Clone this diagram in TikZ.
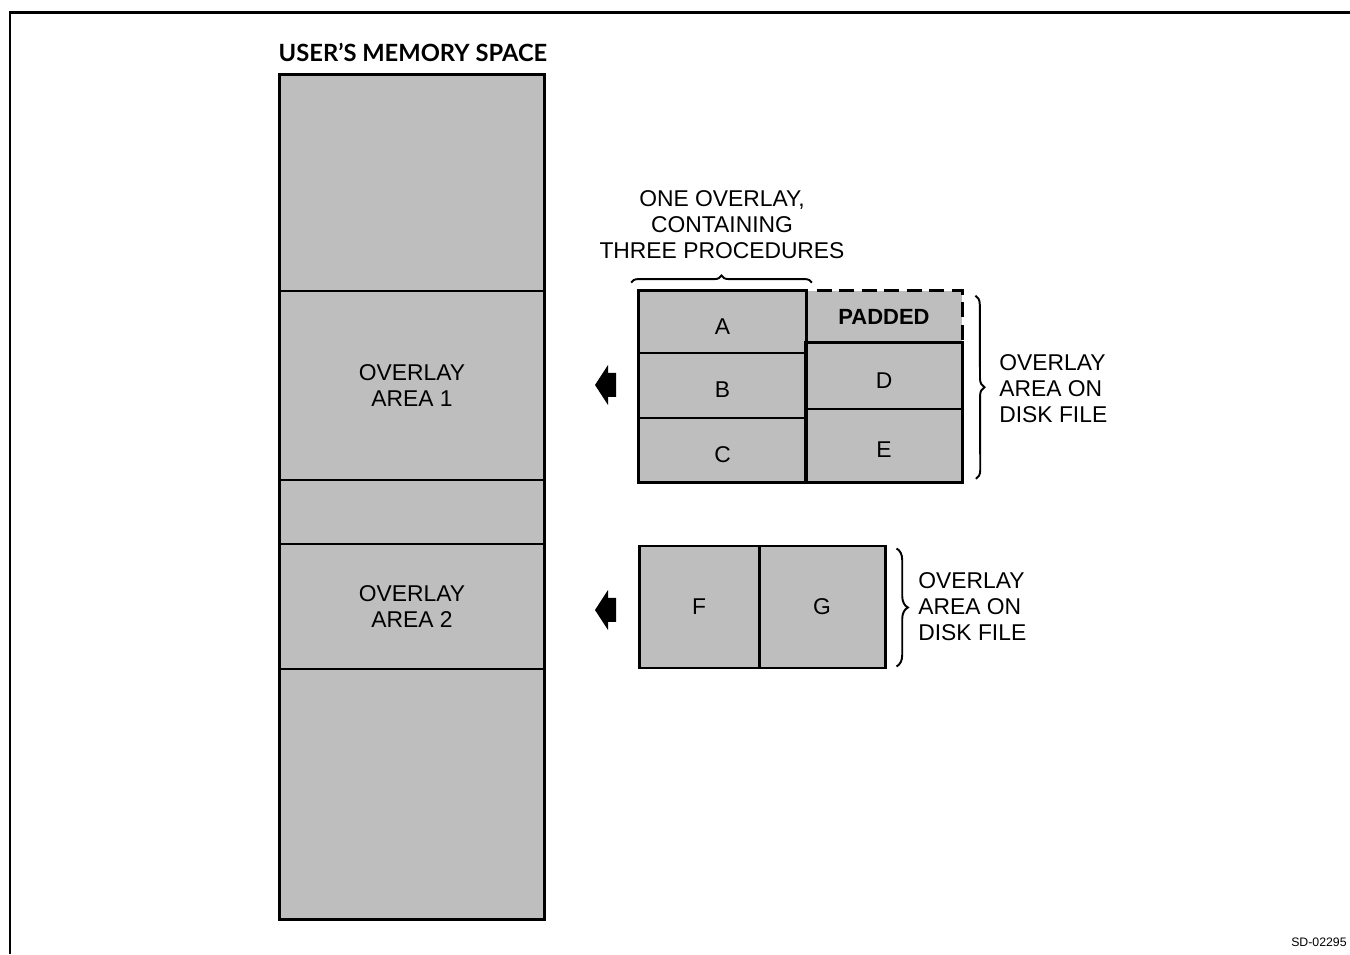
\documentclass[tikz,border=0pt]{standalone}
\usepackage{fontspec}
\setmainfont{Liberation Sans}
\newfontfamily\titlefont{Lato}
\usepackage{tikz}
\usetikzlibrary{arrows.meta,decorations.pathreplacing}
\definecolor{memc}{RGB}{190,190,190}
\tikzset{
  cell/.style={draw,fill=memc,line width=1pt,inner sep=0pt,font=\fontsize{13}{14.8}\selectfont},
  outline/.style={line width=1.7pt},
  lbl/.style={align=center,inner sep=0pt,font=\fontsize{13}{14.8}\selectfont},
  curly/.style={decorate,decoration={brace,amplitude=#1},line width=1.1pt},
}

\begin{document}
\begin{tikzpicture}[x=1cm,y=1cm,>=Latex]
\useasboundingbox (0,0) rectangle (27,19.08);
\draw[outline] (0.2,0)--(0.2,18.82)--(27,18.82);
\node[inner sep=0pt,font=\titlefont\bfseries\fontsize{13.5}{15}\selectfont] (title) at (8.26,18.04) {USER’S MEMORY SPACE};
% memory column
\node[cell,minimum width=5.28cm,minimum height=4.32cm] (m1) at (8.24,15.42) {};
\node[cell,lbl,minimum width=5.28cm,minimum height=3.78cm] (ov1) at (8.24,11.37) {OVERLAY\\AREA 1};
\node[cell,minimum width=5.28cm,minimum height=1.28cm] (m3) at (8.24,8.84) {};
\node[cell,lbl,minimum width=5.28cm,minimum height=2.50cm] (ov2) at (8.24,6.95) {OVERLAY\\AREA 2};
\node[cell,minimum width=5.28cm,minimum height=5.00cm] (m5) at (8.24,3.20) {};
\draw[outline] (m1.north west) rectangle (m5.south east);
% overlay area 1 on disk
\foreach \nm/\xc/\yc/\w/\h in {A/14.45/12.64/3.34/1.24, B/14.45/11.37/3.34/1.30, C/14.45/10.08/3.34/1.28, D/17.68/11.56/3.12/1.32, E/17.68/10.17/3.12/1.46}
  {\node[cell,text height=0.5cm,minimum width=\w cm,minimum height=\h cm] (\nm) at (\xc,\yc) {\nm};}
\node[fill=memc,inner sep=0pt,minimum width=3.12cm,minimum height=1.04cm,font=\bfseries\fontsize{12.5}{14}\selectfont] (pad) at (17.68,12.74) {PADDED};
\draw[outline,dash pattern=on 0.3cm off 0.15cm] ([xshift=0.22cm]pad.north west)--(pad.north east)--(pad.south east);
\draw[outline] (A.north west) rectangle (C.south east);
\draw[outline] (D.north west) rectangle (E.south east);
\draw[curly=4pt] ([xshift=-0.14cm,yshift=0.15cm]A.north west) -- ([xshift=0.1cm,yshift=0.15cm]A.north east);
\node[lbl] (onelbl) at (14.44,14.58) {ONE OVERLAY,\\CONTAINING\\THREE PROCEDURES};
\draw[curly=5pt] ([xshift=0.26cm,yshift=-0.1cm]pad.north east) -- ([xshift=0.26cm,yshift=0.08cm]E.south east);
\node[lbl,align=left,anchor=west] (disk1) at (19.98,11.30) {OVERLAY\\AREA ON\\DISK FILE};
% overlay area 2 on disk
\foreach \nm/\xc/\w in {F/13.98/2.40, G/16.44/2.52}
  {\node[cell,line width=1.7pt,minimum width=\w cm,minimum height=2.44cm] (\nm) at (\xc,6.94) {\nm};}
\draw[curly=6.5pt] ([xshift=0.2cm,yshift=-0.08cm]G.north east) -- ([xshift=0.2cm,yshift=0.06cm]G.south east);
\node[lbl,align=left,anchor=west] (disk2) at (18.36,6.94) {OVERLAY\\AREA ON\\DISK FILE};
% load arrows
\foreach \yc in {11.38,6.88}{\fill (11.9,\yc)--(12.16,\yc+0.4)--(12.16,\yc+0.24)--(12.32,\yc+0.24)--(12.32,\yc-0.24)--(12.16,\yc-0.24)--(12.16,\yc-0.4)--cycle;}
\node[anchor=east,inner sep=0pt,font=\fontsize{7}{8}\selectfont] (sdno) at (26.94,0.24) {SD-02295};
\end{tikzpicture}
\end{document}
